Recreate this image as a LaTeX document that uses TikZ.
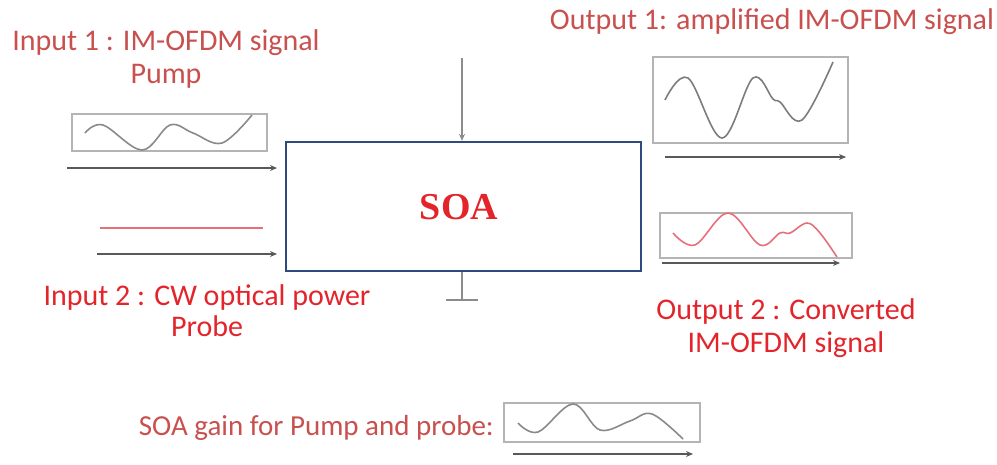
\documentclass[tikz,border=0pt]{standalone}
\usepackage{fontspec}
\setmainfont{Carlito}
\usetikzlibrary{arrows.meta}
\definecolor{lred}{HTML}{C8504E}
\definecolor{bred}{HTML}{E3242B}
\definecolor{soablue}{HTML}{2E4A7E}
\definecolor{boxgray}{HTML}{B4B4B4}
\definecolor{wavegray}{HTML}{8A8A8A}
\definecolor{wavered}{HTML}{E6707A}
\tikzset{
  lbl/.style={font=\fontsize{30}{33}\selectfont, align=center, inner sep=0pt},
  sigbox/.style={draw=boxgray, line width=1.2pt, inner sep=0pt},
  wave/.style={line width=1.6pt, smooth, tension=0.6},
  flow/.style={draw=black!65, line width=1.6pt, -{Stealth[length=7pt,width=6pt]}},
}
\begin{document}
\begin{tikzpicture}[x=1pt,y=-1pt]
\useasboundingbox (0,0) rectangle (997,464);
% labels
\node[lbl, text=lred] (in1) at (166,59) {Input 1 : IM-OFDM signal\\Pump};
\node[lbl, text=lred] (out1) at (772,22) {Output 1: amplified IM-OFDM signal};
\node[lbl, text=bred, font=\fontsize{30}{31}\selectfont] (in2) at (207,311) {Input 2 : CW optical power\\Probe};
\node[lbl, text=bred] (out2) at (786,328) {Output 2 : Converted\\IM-OFDM signal};
\node[lbl, text=lred, font=\fontsize{29}{32}\selectfont, anchor=east] (gain) at (494,428) {SOA gain for Pump and probe:};
% SOA
\node[draw=soablue, line width=2.2pt, minimum width=355pt, minimum height=129pt, inner sep=0pt] (soa) at (463.5,206.5) {};
\node[text=bred, inner sep=0pt] (soalbl) at (459,207) {\fontspec{Liberation Serif}\fontsize{38}{40}\selectfont\bfseries SOA};
% signal boxes
\node[sigbox, minimum width=195pt, minimum height=37pt] (b1) at (169.5,132.5) {};
\node[sigbox, minimum width=195pt, minimum height=86pt] (b2) at (750.5,100) {};
\node[sigbox, minimum width=192pt, minimum height=45pt] (b3) at (756,235.5) {};
\node[sigbox, minimum width=196pt, minimum height=39pt] (b4) at (602,422.5) {};
% waves
\draw[wave, wavegray] plot coordinates {(85,133) (103,125) (142,150) (170,125) (193,133) (222,143) (252,115)};
\draw[wave, wavegray!90!black] plot coordinates {(665,100) (688,78) (722,138) (753,78) (773,99) (780,102) (802,120) (833,62)};
\draw[wave, wavered] plot coordinates {(673,233) (695,245) (728,213) (760,245) (780,233) (790,233) (807,223) (820,233) (837,257)};
\draw[wave, wavegray] plot coordinates {(518,423) (538,432) (573,404) (600,430) (630,421) (652,414) (683,439)};
% coordinates for connectors
\coordinate (a1s) at (67,168); \coordinate (a1e) at (277,168);
\coordinate (a2s) at (97,254); \coordinate (a2e) at (277,254);
\coordinate (rls) at (100,228); \coordinate (rle) at (263,228);
\coordinate (o1s) at (665,157); \coordinate (o1e) at (846,157);
\coordinate (o2s) at (662,263); \coordinate (o2e) at (840,263);
\coordinate (gs) at (513,454); \coordinate (ge) at (693,454);
\coordinate (pt) at (462,58);
\coordinate (gb) at (462,300);
\coordinate (gl) at (446,300); \coordinate (gr) at (478,300);
\draw[flow] (a1s) -- (a1e);
\draw[flow] (a2s) -- (a2e);
\draw[line width=1.6pt, draw=wavered] (rls) -- (rle);
\draw[flow] (o1s) -- (o1e);
\draw[flow] (o2s) -- (o2e);
\draw[flow] (gs) -- (ge);
\draw[draw=black!45, line width=1.4pt, -{Stealth[length=7pt,width=6pt]}] (pt) -- (pt |- soa.north);
\draw[draw=black!45, line width=1.4pt] (gb |- soa.south) -- (gb);
\draw[draw=black!45, line width=1.6pt] (gl) -- (gr);
\end{tikzpicture}
\end{document}
